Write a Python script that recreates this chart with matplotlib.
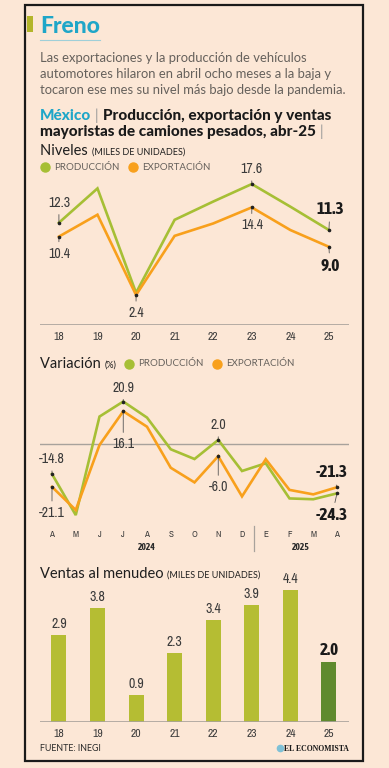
import numpy as np
import matplotlib.pyplot as plt
from matplotlib.patches import Rectangle
from matplotlib.lines import Line2D

# ---- data -------------------------------------------------------------
anios = ['18', '19', '20', '21', '22', '23', '24', '25']
produccion = [12.3, 17.0, 2.7, 12.7, 15.2, 17.6, 14.5, 11.3]
exportacion = [10.4, 13.4, 2.4, 10.5, 12.2, 14.4, 11.3, 9.0]

meses = ['A', 'M', 'J', 'J', 'A', 'S', 'O', 'N', 'D', 'E', 'F', 'M', 'A']
var_produccion = [-14.8, -35.0, 13.5, 20.9, 13.0, -2.6, -7.4, 2.0, -13.3, -9.5, -26.8, -27.2, -24.3]
var_exportacion = [-21.1, -32.5, -0.5, 16.1, 8.5, -11.7, -18.9, -6.0, -25.8, -7.5, -22.6, -24.8, -21.3]

ventas = [2.9, 3.8, 0.9, 2.3, 3.4, 3.9, 4.4, 2.0]

# ---- style ------------------------------------------------------------
W, H = 389, 768
BG = '#fce7d6'
GREEN = '#a6bf35'
ORANGE = '#f8a01c'
BAR = '#b5bd33'
BAR_LAST = '#5f8a2e'
TEAL = '#1fa6c8'
GRAY = '#66615c'
AXIS = '#a8a29c'
SANS = 'Lato'
NUM = ['Archivo Narrow', 'DejaVu Sans']
NUM_B = ['Asap Condensed', 'DejaVu Sans']

fig = plt.figure(figsize=(W / 100, H / 100), dpi=100)
fig.patch.set_facecolor(BG)
renderer = fig.canvas.get_renderer()


def fx(x):
    return x / W


def fy(y):
    return 1 - y / H


def axes_px(x0, y0, x1, y1):
    ax = fig.add_axes([fx(x0), fy(y1), (x1 - x0) / W, (y1 - y0) / H])
    ax.set_facecolor('none')
    for s in ax.spines.values():
        s.set_visible(False)
    ax.set_yticks([])
    ax.tick_params(length=0)
    return ax


def text_run(x, y, parts):
    # draw pieces of text one after the other on one line
    for s, kw in parts:
        t = fig.text(fx(x), fy(y), s, va='baseline', ha='left', **kw)
        x += t.get_window_extent(renderer).width


def dot(x, y, color, ms=6.5):
    fig.add_artist(Line2D([fx(x)], [fy(y)], marker='o', ms=ms, color=color, lw=0,
                          transform=fig.transFigure))


def annot(ax, x, y, label, dy, dx=0, bold=False, size=10):
    ax.plot([x], [y], 'o', ms=1.6, color='#222222', zorder=5)
    ax.annotate(label, xy=(x, y), xytext=(dx * 0.72, -dy * 0.72), textcoords='offset points',
                ha='center', va='center', family=NUM_B if bold else NUM, fontsize=size,
                fontweight='bold' if bold else 'normal', color='#1a1a1a' if bold else '#3a3a3a',
                arrowprops=dict(arrowstyle='-', color='#555555', lw=0.6, shrinkA=1.5, shrinkB=0))


# frame
fig.add_artist(Rectangle((fx(25), fy(761)), (363 - 25) / W, (761 - 5) / H, transform=fig.transFigure,
                         fill=False, edgecolor='#1a1a1a', lw=1.6))

# header
fig.add_artist(Rectangle((fx(27), fy(32)), 6 / W, 16 / H, transform=fig.transFigure,
                         color='#b3b52a', lw=0))
fig.text(fx(40), fy(33), 'Freno', color=TEAL, fontsize=16.5, fontweight='black', family=SANS)
fig.add_artist(Line2D([fx(40), fx(100)], [fy(40), fy(40)], transform=fig.transFigure,
                      color='#9fcfd8', lw=0.8))

sub = ['Las exportaciones y la producción de vehículos',
       'automotores hilaron en abril ocho meses a la baja y',
       'tocaron ese mes su nivel más bajo desde la pandemia.']
for i, line in enumerate(sub):
    fig.text(fx(40), fy(62 + i * 16), line, color=GRAY, fontsize=9.4, family=SANS)

TB = dict(color='#1a1a1a', fontsize=11, fontweight='black', family=SANS)
text_run(40, 120, [('México', dict(TB, color=TEAL)),
                   (' | ', dict(color='#9a9a9a', fontsize=11, family=SANS)),
                   ('Producción, exportación y ventas', TB)])
text_run(40, 136, [('mayoristas de camiones pesados, abr-25', TB),
                   (' |', dict(color='#9a9a9a', fontsize=11, family=SANS))])
text_run(40, 155, [('Niveles ', dict(color='#1e1e1e', fontsize=10.5, family=SANS)),
                   ('(MILES DE UNIDADES)', dict(color='#1e1e1e', fontsize=6.5, family=SANS))])


def legend(x, y):
    dot(x, y, GREEN)
    fig.text(fx(x + 9), fy(y), 'PRODUCCIÓN', va='center', color=GRAY, fontsize=7, family=SANS)
    dot(x + 88, y, ORANGE)
    fig.text(fx(x + 97), fy(y), 'EXPORTACIÓN', va='center', color=GRAY, fontsize=7, family=SANS)


legend(45, 167)

# ---- Niveles ----------------------------------------------------------
x = np.arange(len(anios))
ax1 = axes_px(40, 172, 349, 324.7)
ax1.set_xlim(-0.49, 7.52)
ax1.set_ylim(-1.67, 19.25)
ax1.axhline(-1.67, color=AXIS, lw=1.2)
ax1.plot(x, produccion, color=GREEN, lw=1.9, solid_joinstyle='miter')
ax1.plot(x, exportacion, color=ORANGE, lw=1.9, solid_joinstyle='miter')
ax1.set_xticks(x, anios, family=NUM, fontsize=8.3, color='#3a3a3a')
ax1.tick_params(axis='x', pad=5)
annot(ax1, 0, produccion[0], '12.3', -20)
annot(ax1, 0, exportacion[0], '10.4', 17)
annot(ax1, 2, exportacion[2], '2.4', 18)
annot(ax1, 5, produccion[5], '17.6', -15)
annot(ax1, 5, exportacion[5], '14.4', 18)
annot(ax1, 7, produccion[7], '11.3', -21, dx=1, bold=True, size=12.5)
annot(ax1, 7, exportacion[7], '9.0', 19, dx=1, bold=True, size=12.5)

# ---- Variación --------------------------------------------------------
text_run(40, 368, [('Variación ', dict(color='#1e1e1e', fontsize=10.5, family=SANS)),
                   ('(%)', dict(color='#1e1e1e', fontsize=6.5, family=SANS))])
legend(129, 364)

m = np.arange(len(meses))
ax2 = axes_px(40, 380, 349, 522)
ax2.set_xlim(-0.505, 12.505)
ax2.set_ylim(-38.4, 31.5)
ax2.axhline(0, color=AXIS, lw=1.0)
ax2.plot(m, var_produccion, color=GREEN, lw=1.9, solid_joinstyle='miter')
ax2.plot(m, var_exportacion, color=ORANGE, lw=1.9, solid_joinstyle='miter')
ax2.set_xticks(m, meses, family=NUM, fontsize=6.5, color='#3a3a3a')
ax2.tick_params(axis='x', pad=6)
annot(ax2, 0, var_produccion[0], '-14.8', -15)
annot(ax2, 0, var_exportacion[0], '-21.1', 26)
annot(ax2, 3, var_produccion[3], '20.9', -14)
annot(ax2, 3, var_exportacion[3], '16.1', 33)
annot(ax2, 7, var_produccion[7], '2.0', -15)
annot(ax2, 7, var_exportacion[7], '-6.0', 31)
annot(ax2, 12, var_exportacion[12], '-21.3', -15, dx=-5, bold=True, size=12.5)
annot(ax2, 12, var_produccion[12], '-24.3', 22, dx=-5, bold=True, size=12.5)
fig.add_artist(Line2D([fx(254), fx(254)], [fy(526), fy(551)], transform=fig.transFigure,
                      color=AXIS, lw=0.9))
for lbl, xc in [('2024', 147), ('2025', 301)]:
    fig.text(fx(xc), fy(547), lbl, ha='center', va='center', family=NUM_B,
             fontsize=6.8, fontweight='bold', color='#2a2a2a')

# ---- Ventas al menudeo ------------------------------------------------
text_run(40, 578, [('Ventas al menudeo ', dict(color='#1e1e1e', fontsize=10.5, family=SANS)),
                   ('(MILES DE UNIDADES)', dict(color='#1e1e1e', fontsize=6.5, family=SANS))])
ax3 = axes_px(40, 582, 349, 722)
ax3.set_xlim(-0.49, 7.52)
ax3.set_ylim(0, 140 / 30)
colors = [BAR] * (len(ventas) - 1) + [BAR_LAST]
bars = ax3.bar(x, ventas, width=0.39, color=colors)
ax3.axhline(0, color=AXIS, lw=1.2)
for i, (b, v) in enumerate(zip(bars, ventas)):
    last = i == len(ventas) - 1
    ax3.annotate(f'{v:.1f}', xy=(b.get_x() + b.get_width() / 2, v), xytext=(0, 3),
                 textcoords='offset points', ha='center', va='bottom',
                 family=NUM_B if last else NUM,
                 fontsize=12.3 if last else 10, fontweight='bold' if last else 'normal',
                 color='#1a1a1a' if last else '#3a3a3a')
ax3.set_xticks(x, anios, family=NUM, fontsize=8.3, color='#3a3a3a')
ax3.tick_params(axis='x', pad=5)

fig.text(fx(40), fy(751), 'FUENTE: INEGI', color='#2a2a2a', fontsize=6.4, family=SANS)
dot(280, 748, '#7fc1d6', ms=4.5)
fig.text(fx(284), fy(751), 'EL ECONOMISTA', color='#1a1a1a', fontsize=5.6, family='Liberation Serif',
         fontweight='bold')

fig.savefig('out.png', dpi=100, facecolor=BG)
